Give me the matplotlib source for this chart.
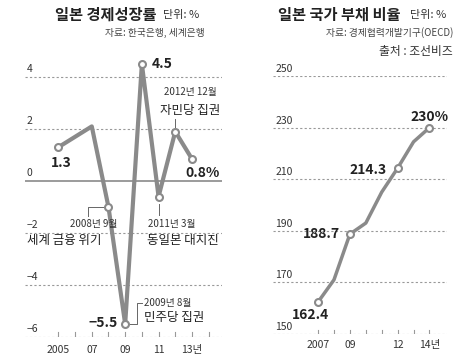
import matplotlib.pyplot as plt

plt.rcParams['font.family'] = ['Noto Sans CJK KR', 'DejaVu Sans']

# ------------------ 데이터 ------------------
gdp_years = [2005, 2006, 2007, 2008, 2009, 2010, 2011, 2012, 2013]
gdp_growth = [1.3, 1.7, 2.1, -1.0, -5.5, 4.5, -0.6, 1.9, 0.85]
gdp_marked = [2005, 2008, 2009, 2010, 2011, 2012, 2013]
gdp_ticks = list(range(2005, 2015))
gdp_ticklabels = {2005: '2005', 2007: '07', 2009: '09', 2011: '11', 2013: '13년'}

debt_years = [2007, 2008, 2009, 2010, 2011, 2012, 2013, 2014]
debt_ratio = [162.4, 171.0, 188.7, 193.0, 205.0, 214.3, 224.5, 230.0]
debt_marked = [2007, 2009, 2012, 2014]
debt_ticks = list(range(2007, 2015))
debt_ticklabels = {2007: '2007', 2009: '09', 2012: '12', 2014: '14년'}

W, H = 470, 360
LINE = '#8a8a8a'
GRID = '#999999'

fig = plt.figure(figsize=(4.7, 3.6), dpi=100)


def px_axes(left, top, right, bottom):
    return fig.add_axes([left / W, 1 - bottom / H, (right - left) / W, (bottom - top) / H])


def style(ax, yticks):
    for s in ax.spines.values():
        s.set_visible(False)
    ax.set_yticks([])
    ax.set_xticks([])
    for y in yticks:
        ax.axhline(y, color=GRID, lw=0.8, ls=(0, (2, 2)), zorder=1)


# ------------------ 경제성장률 ------------------
ax1 = px_axes(25, 51, 222, 337)
ax1.set_xlim(2003.0, 2014.8)
ax1.set_ylim(-6, 5)
style(ax1, [4, 2, -2, -4, -6])
ax1.axhline(0, color='#8a8a8a', lw=1.2, zorder=1)
for y in [4, 2, 0, -2, -4, -6]:
    ax1.text(2003.1, y + 0.12, '−' + str(-y) if y < 0 else str(y),
             fontsize=7.5, color='#333333', va='bottom', ha='left')
for t in gdp_ticks:
    ax1.plot([t, t], [-6, -5.82], color=GRID, lw=0.8, zorder=1)
    if t in gdp_ticklabels:
        ax1.text(t, -6.3, gdp_ticklabels[t], fontsize=7.5, ha='center', va='top',
                 color='#333333')
ax1.plot(gdp_years, gdp_growth, color=LINE, lw=3, zorder=3)
mk = [gdp_growth[gdp_years.index(y)] for y in gdp_marked]
ax1.plot(gdp_marked, mk, 'o', ms=5, mfc='white', mec=LINE, mew=1.5, zorder=4)

bold = dict(fontsize=10, fontweight='bold', color='#222222')
ax1.text(2005.2, 0.95, '1.3', ha='center', va='top', **bold)
ax1.text(2010.6, 4.5, '4.5', ha='left', va='center', **bold)
ax1.text(2012.6, 0.05, '0.8%', ha='left', va='bottom', **bold)
ax1.text(2008.55, -5.45, '−5.5', ha='right', va='center', **bold)

small = dict(fontsize=7, color='#333333')
mid = dict(fontsize=9, color='#222222')
ax1.text(2012.9, 3.25, '2012년 12월', ha='center', va='bottom', **small)
ax1.text(2012.9, 2.45, '자민당 집권', ha='center', va='bottom', **mid)
ax1.plot([2012, 2012], [2.05, 2.4], color='#666666', lw=0.7)

ax1.plot([2008, 2006.77, 2006.77], [-1.0, -1.0, -1.35], color='#666666', lw=0.7)
ax1.text(2007.1, -1.45, '2008년 9월', ha='center', va='top', **small)
ax1.text(2003.1, -2.05, '세계 금융 위기', ha='left', va='top', **mid)

ax1.plot([2011, 2011], [-0.9, -1.3], color='#666666', lw=0.7)
ax1.text(2011.8, -1.45, '2011년 3월', ha='center', va='top', **small)
ax1.text(2012.45, -2.05, '동일본 대지진', ha='center', va='top', **mid)

ax1.plot([2009.15, 2009.7, 2009.7, 2010.0], [-5.5, -5.5, -4.7, -4.7],
         color='#666666', lw=0.7)
ax1.text(2010.1, -4.7, '2009년 8월', ha='left', va='center', **small)
ax1.text(2010.1, -5.0, '민주당 집권', ha='left', va='top', **mid)

# ------------------ 국가 부채 비율 ------------------
ax2 = px_axes(273, 76, 447, 334)
ax2.set_xlim(2004.17, 2015.1)
ax2.set_ylim(150, 250)
style(ax2, [250, 230, 210, 190, 170, 150])
for y in [250, 230, 210, 190, 170, 150]:
    ax2.text(2004.3, y + 0.8, str(y), fontsize=7.5, color='#333333',
             va='bottom', ha='left')
for t in debt_ticks:
    ax2.plot([t, t], [150, 151.6], color=GRID, lw=0.8, zorder=1)
    if t in debt_ticklabels:
        ax2.text(t, 147.5, debt_ticklabels[t], fontsize=7.5, ha='center', va='top',
                 color='#333333')
ax2.plot(debt_years, debt_ratio, color=LINE, lw=2.5, zorder=3)
mk = [debt_ratio[debt_years.index(y)] for y in debt_marked]
ax2.plot(debt_marked, mk, 'o', ms=5, mfc='white', mec=LINE, mew=1.5, zorder=4)
ax2.text(2006.5, 157.4, '162.4', ha='center', va='center', **bold)
ax2.text(2008.4, 188.7, '188.7', ha='right', va='center', **bold)
ax2.text(2011.3, 213.5, '214.3', ha='right', va='center', **bold)
ax2.text(2014, 234, '230%', ha='center', va='center', **bold)

# ------------------ 제목 ------------------
fig.text(55 / W, 1 - 15 / H, '일본 경제성장률', fontsize=11, fontweight='bold',
         ha='left', va='center', color='#222222')
fig.text(163 / W, 1 - 15 / H, '단위: %', fontsize=8, ha='left', va='center', color='#333333')
fig.text(205 / W, 1 - 33 / H, '자료: 한국은행, 세계은행', fontsize=7, ha='right',
         va='center', color='#444444')

fig.text(278 / W, 1 - 15 / H, '일본 국가 부채 비율', fontsize=11, fontweight='bold',
         ha='left', va='center', color='#222222')
fig.text(410 / W, 1 - 15 / H, '단위: %', fontsize=8, ha='left', va='center', color='#333333')
fig.text(453 / W, 1 - 33 / H, '자료: 경제협력개발기구(OECD)', fontsize=7, ha='right',
         va='center', color='#444444')
fig.text(453 / W, 1 - 51 / H, '출처 : 조선비즈', fontsize=8.5, ha='right',
         va='center', color='#333333')

fig.savefig('out.png', dpi=100)
